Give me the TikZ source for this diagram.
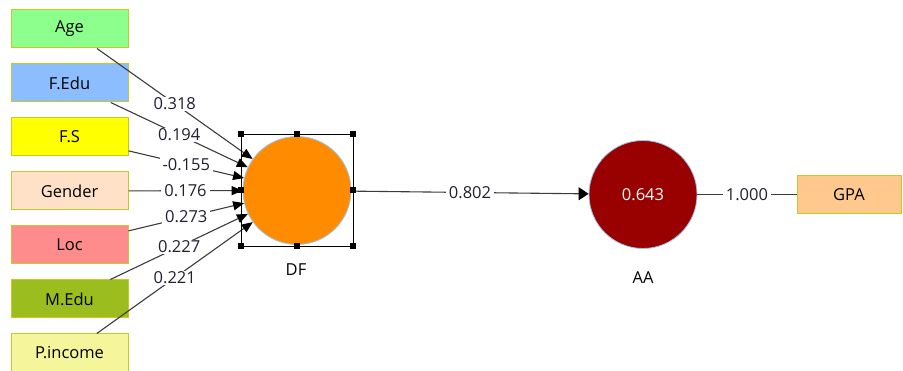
\documentclass[tikz,border=0pt]{standalone}
\usepackage{fontspec}
\setmainfont{Open Sans}
\usetikzlibrary{arrows.meta}

\definecolor{boxedge}{HTML}{C8C828}
\definecolor{ringblue}{HTML}{9CC4E8}
\definecolor{linegrey}{HTML}{3C3C3C}
\definecolor{labeltext}{HTML}{202030}
\definecolor{cage}{HTML}{8CFF8C}
\definecolor{cfedu}{HTML}{8CBEFF}
\definecolor{cfs}{HTML}{FFFF00}
\definecolor{cgender}{HTML}{FFE1C8}
\definecolor{cloc}{HTML}{FF8C8C}
\definecolor{cmedu}{HTML}{9BBE1E}
\definecolor{cpincome}{HTML}{F5F59B}
\definecolor{cgpa}{HTML}{FFC88C}
\definecolor{cdf}{HTML}{FF8C00}
\definecolor{caa}{HTML}{990000}

\begin{document}
\begin{tikzpicture}[x=1pt,y=-1pt,
  txt/.style={font=\fontsize{16.5}{19}\selectfont},
  ind/.style={txt, draw=boxedge, line width=1pt, minimum width=117pt,
    minimum height=38pt, inner sep=0pt},
  lv/.style={txt, circle, draw=ringblue, line width=0.8pt, minimum size=108pt, inner sep=0pt},
  link/.style={draw=linegrey, line width=1.1pt},
  pathto/.style={link, -{Triangle[length=11pt,width=9pt,fill=black,color=black]}},
  coef/.style={txt, fill=white, inner xsep=3pt, inner ysep=1pt, text=labeltext},
  handle/.style={fill=black, minimum size=6pt, inner sep=0pt}
]
\useasboundingbox (0,0) rectangle (903,371);

% indicator boxes
\node[ind, fill=cage]     (age)     at (69.5,29)  {Age};
\node[ind, fill=cfedu]    (fedu)    at (69.5,83)  {F.Edu};
\node[ind, fill=cfs]      (fs)      at (69.5,137) {F.S};
\node[ind, fill=cgender]  (gender)  at (69.5,191) {Gender};
\node[ind, fill=cloc]     (loc)     at (69.5,245) {Loc};
\node[ind, fill=cmedu]    (medu)    at (69.5,299) {M.Edu};
\node[ind, fill=cpincome] (pincome) at (69.5,353) {P.income};
\node[ind, fill=cgpa, minimum width=104pt] (gpa) at (849,194.5) {GPA};

% latent variables
\node[lv, fill=cdf] (df) at (297,190.5) {};
\node[lv, fill=caa, text=white] (aa) at (643,194.5) {0.643};
\node[txt] (dflabel) at (296,270) {DF};
\node[txt] (aalabel) at (643,278) {AA};

% paths into DF
\draw[pathto] (age)     -- node[coef] (l1) {0.318}  (df);
\draw[pathto] (fedu)    -- node[coef] (l2) {0.194}  (df);
\draw[pathto] (fs)      -- node[coef] (l3) {-0.155} (df);
\draw[pathto] (gender)  -- node[coef] (l4) {0.176}  (df);
\draw[pathto] (loc)     -- node[coef] (l5) {0.273}  (df);
\draw[pathto] (medu)    -- node[coef] (l6) {0.227}  (df);
\draw[pathto] (pincome) -- node[coef] (l7) {0.221}  (df);

% structural path and outer loading
\draw[link, -{Triangle[length=10pt,width=13pt,fill=black,color=black]}] (df) -- node[coef] (l8) {0.802} (aa);
\draw[link] (aa) -- node[coef] (l9) {1.000} (gpa);

% selection frame round DF
\draw[black, line width=0.9pt] (241,134) rectangle (353,246);
\node[handle] (h1) at (241,134) {};
\node[handle] (h2) at (297,134) {};
\node[handle] (h3) at (353,134) {};
\node[handle] (h4) at (241,190) {};
\node[handle] (h5) at (353,190) {};
\node[handle] (h6) at (241,246) {};
\node[handle] (h7) at (297,246) {};
\node[handle] (h8) at (353,246) {};
\end{tikzpicture}
\end{document}
